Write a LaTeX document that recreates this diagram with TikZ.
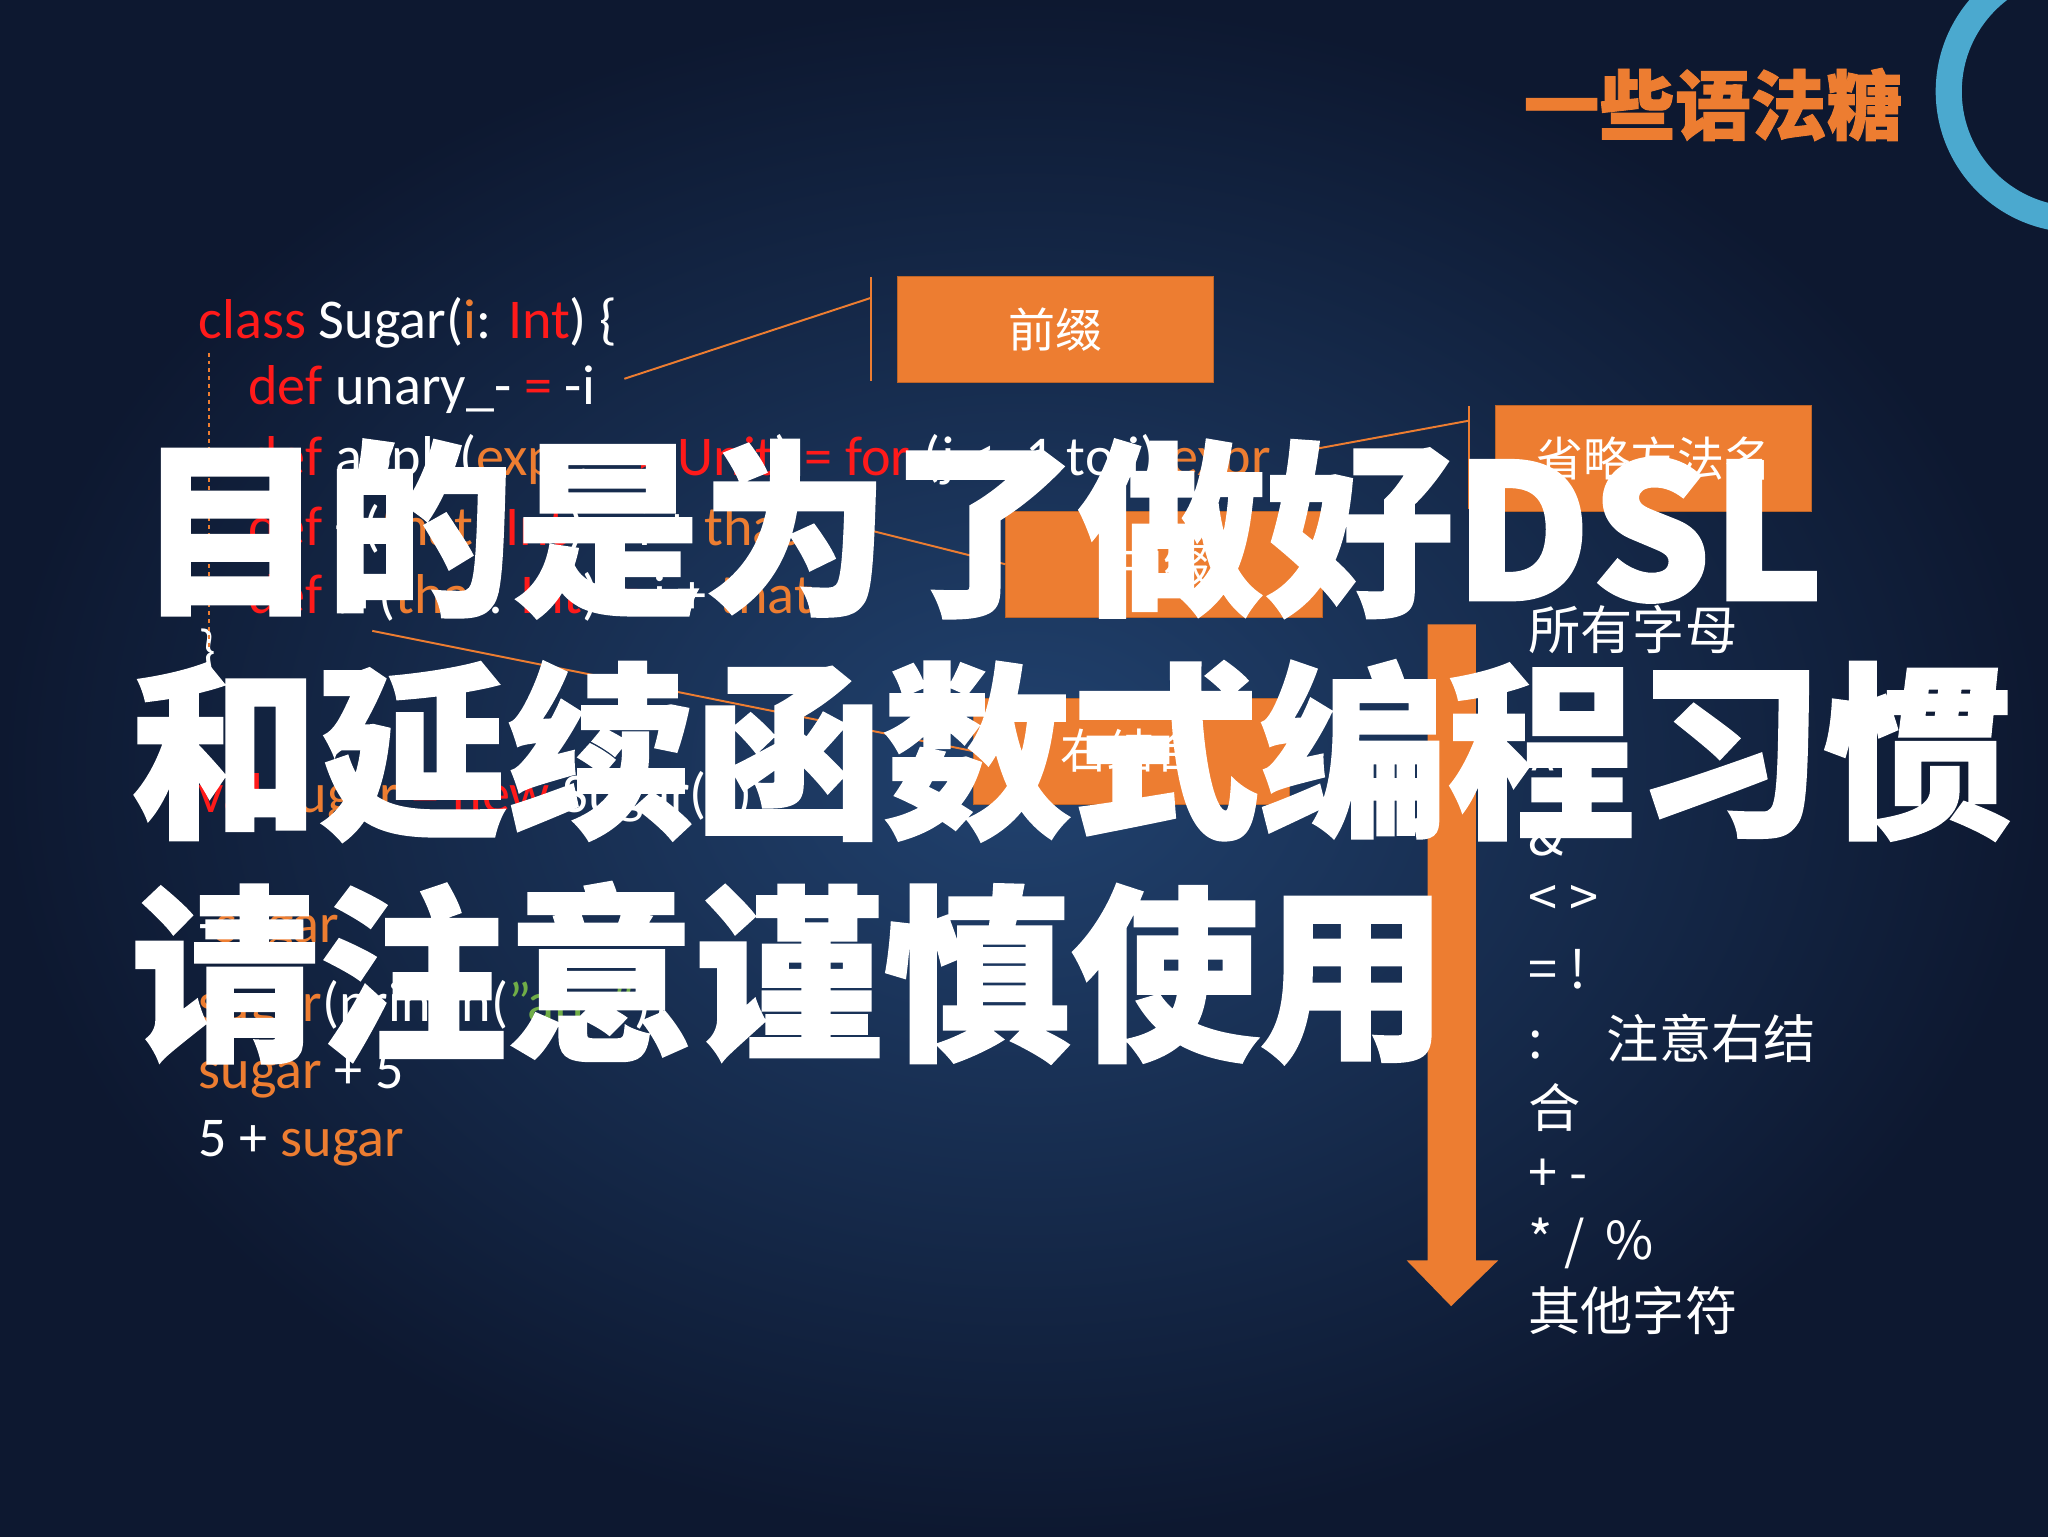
\documentclass[tikz,border=0pt]{standalone}
\usepackage{fontspec}
\setmainfont{Carlito}
\newfontfamily\cjk{Noto Sans CJK SC}
\newfontfamily\cjkbold{Noto Sans CJK SC}[FakeBold=1.2]
\definecolor{org}{HTML}{ED7D31}
\definecolor{kw}{HTML}{FF1A1A}
\definecolor{grn}{HTML}{70AD47}
\definecolor{navy}{HTML}{0D1830}
\definecolor{mid}{HTML}{21426F}
\definecolor{arc}{HTML}{4BA9CF}
\newcommand\K[1]{\textcolor{kw}{#1}}
\newcommand\Og[1]{\textcolor{org}{#1}}
\tikzset{
  code/.style={anchor=west,text=white,font=\fontsize{43}{43}\selectfont,inner sep=0},
  obox/.style={fill=org,draw=org!80!black,minimum width=242pt,minimum height=81pt,text=white,font=\cjk\fontsize{36}{36}\selectfont},
  oline/.style={draw=org,line width=1.5pt},
  lst/.style={anchor=west,text=white,font=\cjk\fontsize{40}{40}\selectfont,inner sep=0},
  big/.style={anchor=west,text=white,font=\cjkbold\bfseries\fontsize{144}{144}\selectfont,inner sep=0}
}
\begin{document}
\begin{tikzpicture}[x=1pt,y=-1pt]
\useasboundingbox (0,0) rectangle (1568,1176);
\shade[inner color=mid,outer color=navy] (0,0) rectangle (1568,1176);
% arc
\begin{scope}
\clip (0,0) rectangle (1568,1176);
\draw[arc,line width=20pt] (1590,70) circle (98);
\end{scope}
\node[anchor=east,text=org,font=\cjkbold\bfseries\fontsize{58}{58}\selectfont] (title) at (1460,80) {一些语法糖};
% code
\node[code] (c1) at (152,247) {\K{class} Sugar(\Og{i}: \K{Int}) \{};
\node[code] (c2) at (190,298) {\K{def} unary\_- \K{=} -i};
\node[code] (c3) at (190,352) {\K{def} apply(\Og{expr}: \K{=>} \K{Unit}) \K{=} \K{for} (j <- 1 to i) \Og{expr}};
\node[code] (c4) at (190,405) {\K{def} +(\Og{that}: \K{Int}) \K{=} i + \Og{that}};
\node[code] (c5) at (190,457) {\K{def} :+(\Og{that}: \K{Int}) \K{=} i + \Og{that}};
\node[code] (c6) at (152,500) {\}};
\node[code] (c7) at (152,610) {\K{val} \Og{sugar} \K{= new} Sugar(2)};
\node[code] (c8) at (152,715) {-\Og{sugar}};
\node[code] (c9) at (152,770) {\Og{sugar}(println(\textcolor{grn}{"aha"}))};
\node[code] (c10) at (152,823) {\Og{sugar} + 5};
\node[code] (c11) at (152,875) {5 + \Og{sugar}};
\draw[org,dashed,line width=1pt] (160,270) -- (160,495);
% boxes
\node[obox] (b1) at (808,252) {前缀};
\node[obox] (b2) at (1266,351) {省略方法名};
\node[obox] (b3) at (891,432) {中缀};
\node[obox] (b4) at (866,575) {右结合};
\coordinate (k1t) at (667,212); \coordinate (k1b) at (667,292);
\draw[oline] (k1t) -- (k1b);
\coordinate (k1) at (667,228);
\coordinate (s1) at (478,290);
\draw[oline] (s1) -- (k1);
\coordinate (k2t) at (1125,311); \coordinate (k2b) at (1125,390);
\draw[oline] (k2t) -- (k2b);
\coordinate (k2) at (1125,322);
\coordinate (s2) at (1000,345);
\draw[oline] (s2) -- (k2);
\coordinate (s3) at (650,402);
\draw[oline] (s3) -- (b3.west);
\coordinate (r0) at (285,483);
\draw[oline] (r0) -- (b4.west);
% arrow
\fill[org] (1093,478) -- (1130,478) -- (1130,965) -- (1147,965) -- (1111,1000) -- (1077,965) -- (1093,965) -- cycle;
% list
\node[lst] (l1) at (1170,482) {所有字母};
\node[lst] (l2) at (1170,535) {|};
\node[lst] (l3) at (1170,588) {\^{}};
\node[lst] (l4) at (1170,640) {\&};
\node[lst] (l5) at (1170,690) {< >};
\node[lst] (l6) at (1170,742) {= !};
\node[lst] (l7) at (1170,795) {:\quad\ 注意右结};
\node[lst] (l8) at (1170,848) {合};
\node[lst] (l9) at (1170,900) {+ -};
\node[lst] (l10) at (1170,952) {* /\, \%};
\node[lst] (l11) at (1170,1003) {其他字符};
% overlay
\node[big] (t1) at (105,405) {目的是为了做好DSL};
\node[big] (t2) at (100,575) {和延续函数式编程习惯};
\node[big] (t3) at (100,745) {请注意谨慎使用};
\end{tikzpicture}
\end{document}
